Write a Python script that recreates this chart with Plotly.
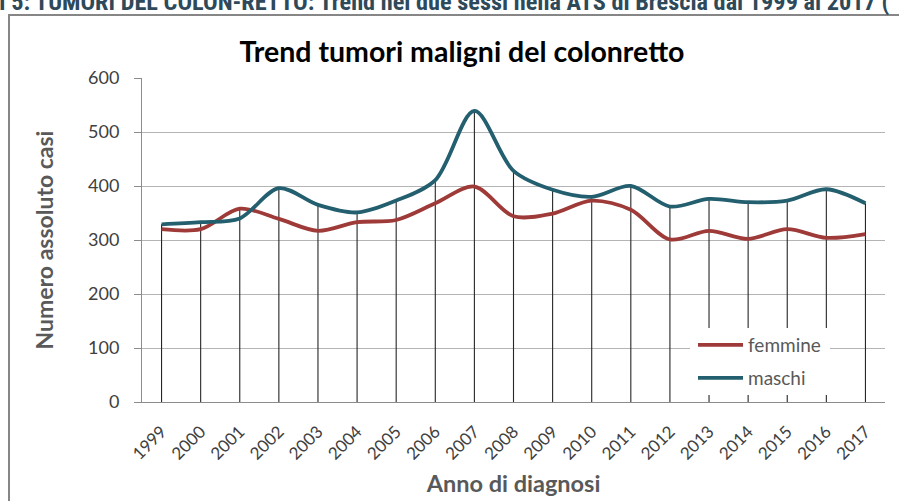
import plotly.graph_objects as go

# ---- data ----
anni = ["1999", "2000", "2001", "2002", "2003", "2004", "2005", "2006", "2007", "2008",
        "2009", "2010", "2011", "2012", "2013", "2014", "2015", "2016", "2017"]
femmine = [320, 320, 358, 339, 317, 333, 337, 368, 399, 344, 349, 373, 356, 301, 317, 302, 320, 304, 311]
maschi = [329, 333, 340, 396, 365, 351, 373, 411, 539, 428, 393, 380, 400, 362, 376, 370, 373, 394, 368]
y_ticks = [0, 100, 200, 300, 400, 500, 600]

titolo = "Trend tumori maligni del colonretto"
intestazione = "I 5: TUMORI DEL COLON-RETTO: Trend nei due sessi nella ATS di Brescia dal 1999 al 2017 ("

RED = "#9E3A38"
TEAL = "#235F6E"
FONT = "Lato, 'Open Sans', sans-serif"

# plot area in pixels
W, H = 899, 501
L, R, T, B = 142, 885, 78, 402


def px_x(p):
    return (p - L) / (R - L)


def px_y(p):
    return (B - p) / (B - T)


# drop lines from 0 to the top of the highest series
dx, dy = [], []
for a, f, m in zip(anni, femmine, maschi):
    dx += [a, a, None]
    dy += [0, max(f, m), None]

fig = go.Figure()
fig.add_trace(go.Scatter(x=dx, y=dy, mode="lines", line=dict(color="#262626", width=1.1),
                         showlegend=False, hoverinfo="skip"))
fig.add_trace(go.Scatter(x=anni, y=femmine, mode="lines", name="femmine",
                         line=dict(color=RED, width=3.8, shape="spline", smoothing=0.9),
                         legend="legend"))
fig.add_trace(go.Scatter(x=anni, y=maschi, mode="lines", name="maschi",
                         line=dict(color=TEAL, width=3.8, shape="spline", smoothing=0.9),
                         legend="legend2"))

leg_common = dict(bgcolor="rgba(0,0,0,0)", borderwidth=0, xanchor="left", yanchor="middle",
                  font=dict(family=FONT, size=19, color="#595959"), itemwidth=45)

fig.update_layout(
    width=W, height=H,
    margin=dict(l=L, r=W - R, t=T, b=H - B),
    paper_bgcolor="white", plot_bgcolor="white",
    font=dict(family=FONT, color="#404040"),
    title=dict(text="<b>" + titolo + "</b>", x=462 / W, xanchor="center",
               y=1 - 52 / H, yanchor="middle",
               font=dict(family=FONT, size=28.5, color="#000000")),
    xaxis=dict(type="category", categoryorder="array", categoryarray=anni,
               range=[-0.5, len(anni) - 0.5], showgrid=False, automargin=False,
               showline=True, linecolor="#8C8C8C", linewidth=1,
               ticks="", tickangle=-45, tickfont=dict(family=FONT, size=17, color="#404040"),
               ticklabelstandoff=12,
               title=dict(text="<b>Anno di diagnosi</b>", standoff=12,
                          font=dict(family=FONT, size=23.5, color="#595959"))),
    yaxis=dict(range=[0, 600], tickvals=y_ticks, showgrid=True, gridcolor="#B4B4B4", gridwidth=1,
               zeroline=False, showline=True, linecolor="#8C8C8C", linewidth=1, automargin=False,
               ticks="outside", ticklen=7, tickcolor="#8C8C8C",
               tickfont=dict(family=FONT, size=18, color="#404040"),
               ticklabelstandoff=11,
               title=dict(text="<b>Numero assoluto casi</b>", standoff=28,
                          font=dict(family=FONT, size=23, color="#595959"))),
    legend=dict(x=px_x(693), y=px_y(345), **leg_common),
    legend2=dict(x=px_x(693), y=px_y(378), **leg_common),
    shapes=[
        dict(type="rect", xref="paper", yref="paper",
             x0=px_x(9), x1=px_x(910), y0=px_y(520), y1=px_y(15),
             line=dict(color="#868686", width=2), fillcolor="rgba(0,0,0,0)", layer="below"),
        dict(type="rect", xref="paper", yref="paper",
             x0=px_x(690), x1=px_x(830), y0=px_y(395), y1=px_y(328),
             line=dict(width=0), fillcolor="white", layer="above"),
    ],
    annotations=[
        dict(text="<b>" + intestazione + "</b>", xref="paper", yref="paper",
             x=px_x(-3), y=px_y(18), xanchor="left", yanchor="bottom", showarrow=False,
             font=dict(family="'Liberation Sans Narrow', 'Arial Narrow', 'Roboto Condensed', Roboto, sans-serif",
                       size=24.3, color="#2E4A5A")),
    ],
)

fig.write_html("out.html", config={"displayModeBar": False},
               post_script="document.body.style.margin='0';")
